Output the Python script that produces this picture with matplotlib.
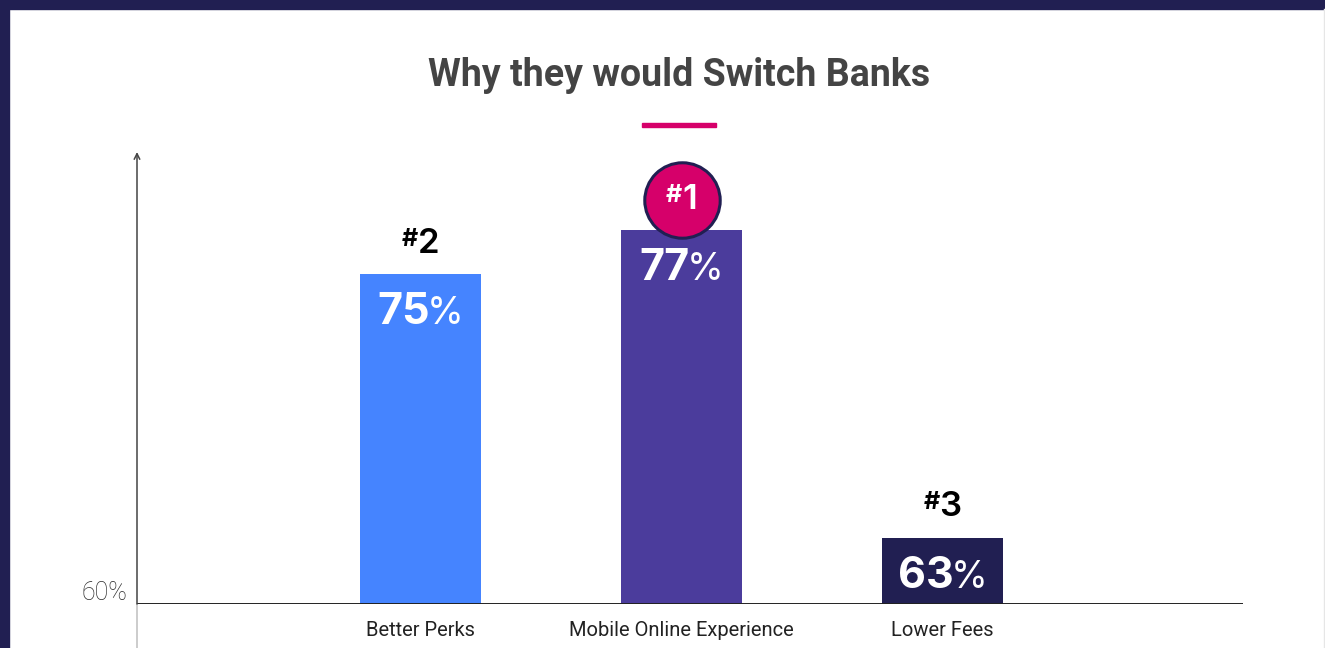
import matplotlib
matplotlib.use("Agg")
import matplotlib.pyplot as plt
from matplotlib.patches import Rectangle
from matplotlib.lines import Line2D
from matplotlib.offsetbox import TextArea, HPacker, AnnotationBbox
from matplotlib.transforms import ScaledTranslation

# Data
categories = ["Better Perks", "Mobile Online Experience", "Lower Fees"]
values = [75, 77, 63]
ranks = [2, 1, 3]
bar_colors = ["#4584ff", "#4b3c9c", "#211f52"]

NAVY = "#211f52"
PINK = "#d6006a"
BASE = 60

W, H = 1325, 648
fig = plt.figure(figsize=(W / 100, H / 100), dpi=100)
fig.patch.set_facecolor("white")

# Frame bands
fig.patches.append(Rectangle((0, 1 - 9 / H), 1, 9 / H, transform=fig.transFigure,
                             color=NAVY, zorder=0))
fig.patches.append(Rectangle((0, 0), 8.5 / W, 1, transform=fig.transFigure,
                             color=NAVY, zorder=0))
fig.lines.append(Line2D([1 - 1 / W, 1 - 1 / W], [0, 1 - 9 / H], transform=fig.transFigure,
                        color="#e6e6e6", lw=1))

# Axes placed in pixel terms
ax_l, ax_r, ax_b, ax_t = 137, 1243, 604, 152
ax = fig.add_axes([ax_l / W, (H - ax_b) / H, (ax_r - ax_l) / W, (ax_b - ax_t) / H])
ax.set_facecolor("none")

xs = list(range(len(categories)))
ax.bar(xs, [v - BASE for v in values], bottom=BASE, width=0.4636,
       color=bar_colors, zorder=2)

ax.set_xlim(-1.086, 3.151)
ax.set_ylim(BASE, 80.55)
for s in ax.spines.values():
    s.set_visible(False)
ax.set_yticks([])
ax.set_xticks(xs)
ax.set_xticklabels(categories, fontsize=14.5, color="#222222", family="Roboto",
                   fontweight="normal")
ax.tick_params(axis="x", length=0, pad=12)

# Baseline
ax.axhline(BASE, color="#222222", lw=1.4, zorder=3)

# Vertical axis with arrow, continuing below the baseline
ax.annotate("", xy=(0, 1.0), xycoords="axes fraction", xytext=(0, 0),
            textcoords="axes fraction",
            arrowprops=dict(arrowstyle="->", color="#444444", lw=1.1,
                            shrinkA=0, shrinkB=0, mutation_scale=10))
ax.add_line(Line2D([0, 0], [0, -44 / (ax_b - ax_t)], transform=ax.transAxes,
                   color="#c8c8c8", lw=1.3, clip_on=False))

# 60% label
ax.annotate(f"{BASE}%", xy=(0, BASE), xycoords=("axes fraction", "data"),
            xytext=(-7, -1), textcoords="offset points", ha="right", va="bottom",
            fontsize=18, color="#2a2a2a", family="Roboto", fontweight="light")


def packed(parts, align, sep=0):
    boxes = [TextArea(t, textprops=p) for t, p in parts]
    return HPacker(children=boxes, align=align, pad=0, sep=sep)


for x, v, r in zip(xs, values, ranks):
    # value label inside bar
    val = packed([(str(v), dict(fontsize=31, color="white", fontweight="bold", family="Inter")),
                  ("%", dict(fontsize=27, color="white", fontweight="normal", family="Inter"))],
                 "baseline", sep=-2)
    ab = AnnotationBbox(val, (x, v), xybox=(0, -28), xycoords="data",
                        boxcoords="offset points", frameon=False,
                        box_alignment=(0.5, 0.5), zorder=5)
    ax.add_artist(ab)

    # rank badge above bar
    if r == 1:
        ax.scatter([x], [v], s=2950, c=PINK, edgecolors=NAVY, linewidths=2.2,
                   zorder=6, clip_on=False,
                   transform=ax.transData + ScaledTranslation(0, 0.30, fig.dpi_scale_trans))
        color = "white"
        off = 22
    else:
        color = "black"
        off = 22
    rk = packed([("#", dict(fontsize=18, color=color, fontweight="bold", family="Inter")),
                 (str(r), dict(fontsize=25, color=color, fontweight="semibold", family="Inter"))],
                "top", sep=0)
    ab = AnnotationBbox(rk, (x, v), xybox=(0, off), xycoords="data",
                        boxcoords="offset points", frameon=False,
                        box_alignment=(0.5, 0.5), zorder=7)
    ax.add_artist(ab)

# Title and accent rule
fig.text(679 / W, 1 - 76 / H, "Why they would Switch Banks", ha="center", va="center",
         fontsize=27, fontweight="bold", color="#444444", family="Roboto")
fig.patches.append(Rectangle((642 / W, 1 - 127 / H), 74 / W, 4 / H,
                             transform=fig.transFigure, color=PINK))

fig.savefig("out.png", dpi=100, facecolor=fig.get_facecolor())
